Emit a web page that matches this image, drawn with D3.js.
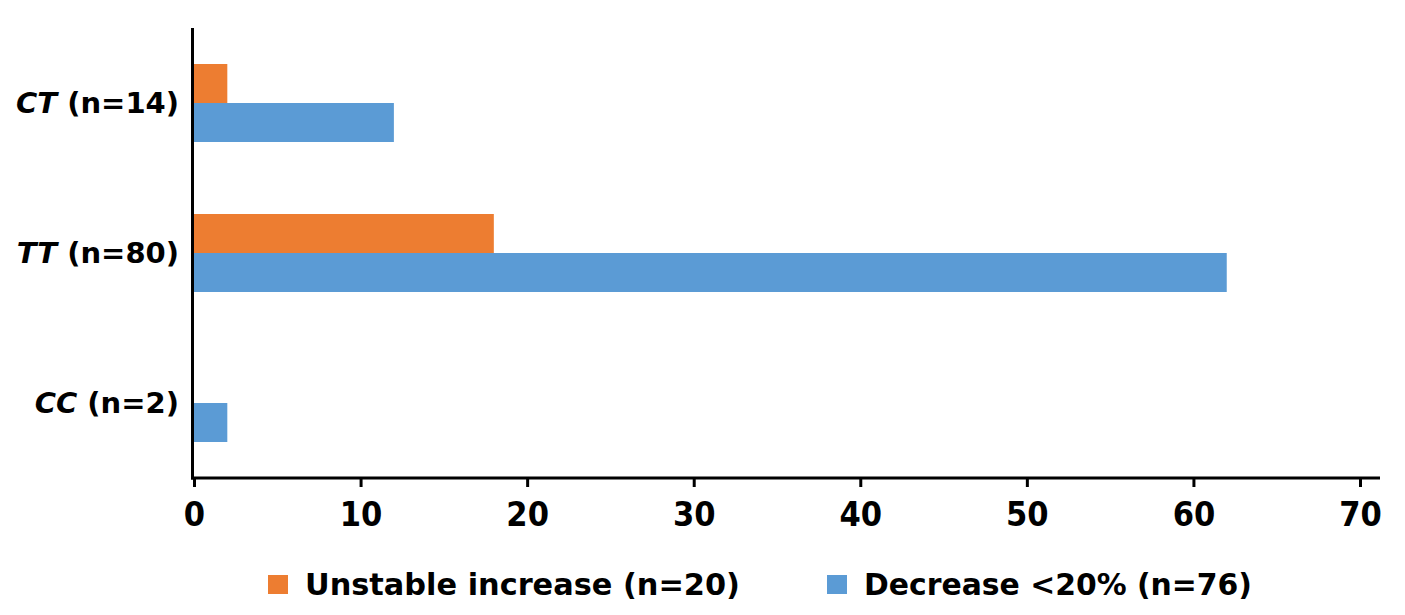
<!DOCTYPE html>
<html><head><meta charset="utf-8">
<script src="https://cdn.jsdelivr.net/npm/d3@7"></script>
<style>body{margin:0;background:#fff}svg{display:block}</style>
</head><body>
<script>
const categories = ["CT", "TT", "CC"];
const categoryN = ["14", "80", "2"];
const seriesNames = ["Unstable increase (n=20)", "Decrease <20% (n=76)"];
const unstableIncrease = [2, 18, 0];
const decrease20 = [12, 62, 2];
const xTicks = [0, 10, 20, 30, 40, 50, 60, 70];
const colors = ["#ED7D31", "#5B9BD5"];

const W = 1405, H = 615;
const svg = d3.select("body").append("svg").attr("width", W).attr("height", H);

const x = d3.scaleLinear().domain([0, 70]).range([194, 1360]);
const y = d3.scaleBand().domain(categories).range([28, 478]).paddingInner(0.48).paddingOuter(0.24);
const sub = d3.scaleBand().domain([0, 1]).range([0, y.bandwidth()]);

const series = [unstableIncrease, decrease20];
series.forEach((vals, si) => {
  svg.append("g").selectAll("rect").data(categories).join("rect")
    .attr("x", x(0))
    .attr("y", (c) => y(c) + sub(si))
    .attr("width", (c, i) => x(vals[i]) - x(0))
    .attr("height", sub.bandwidth())
    .attr("fill", colors[si]);
});

// x axis
const xAxis = svg.append("g").attr("transform", "translate(0,478)")
  .call(d3.axisBottom(x).tickValues(xTicks).tickSize(9).tickPadding(22).tickFormat(d3.format("d")));
xAxis.select(".domain").remove();
xAxis.append("line").attr("x1", 191).attr("x2", 1380).attr("y1", 0).attr("y2", 0)
  .attr("stroke", "#000").attr("stroke-width", 3);
xAxis.selectAll(".tick line").attr("stroke", "#000").attr("stroke-width", 3);
xAxis.selectAll(".tick text").attr("fill", "#000").attr("dy", "0.5em")
  .style("font-family", "'DejaVu Sans Condensed', 'DejaVu Sans'").style("font-stretch", "condensed")
  .style("font-weight", "bold").style("font-size", "34px");

// y axis line
svg.append("line").attr("x1", 192.5).attr("x2", 192.5).attr("y1", 28).attr("y2", 479.5)
  .attr("stroke", "#000").attr("stroke-width", 3);

// category labels
const labels = svg.append("g").selectAll("text").data(categories).join("text")
  .attr("x", 179)
  .attr("y", (c) => y(c) + y.bandwidth() / 2)
  .attr("dy", "0.36em")
  .attr("text-anchor", "end")
  .style("font-family", "'DejaVu Sans'").style("font-weight", "bold").style("font-size", "29px")
  .attr("fill", "#000");
labels.append("tspan").style("font-style", "italic").text((c) => c);
labels.append("tspan").text((c, i) => " (n=" + categoryN[i] + ")");

// legend
const legendX = [268, 827];
const legendTextLen = [435, 388];
const leg = svg.append("g").selectAll("g").data(seriesNames).join("g")
  .attr("transform", (d, i) => `translate(${legendX[i]},0)`);
leg.append("rect").attr("x", 0).attr("y", 575).attr("width", 20).attr("height", 19)
  .attr("fill", (d, i) => colors[i]);
leg.append("text").attr("x", 37).attr("y", 595)
  .attr("textLength", (d, i) => legendTextLen[i]).attr("lengthAdjust", "spacingAndGlyphs")
  .style("font-family", "'DejaVu Sans Condensed', 'DejaVu Sans'").style("font-stretch", "condensed")
  .style("font-weight", "bold").style("font-size", "30px").attr("fill", "#000")
  .text((d) => d);
</script>
</body></html>
